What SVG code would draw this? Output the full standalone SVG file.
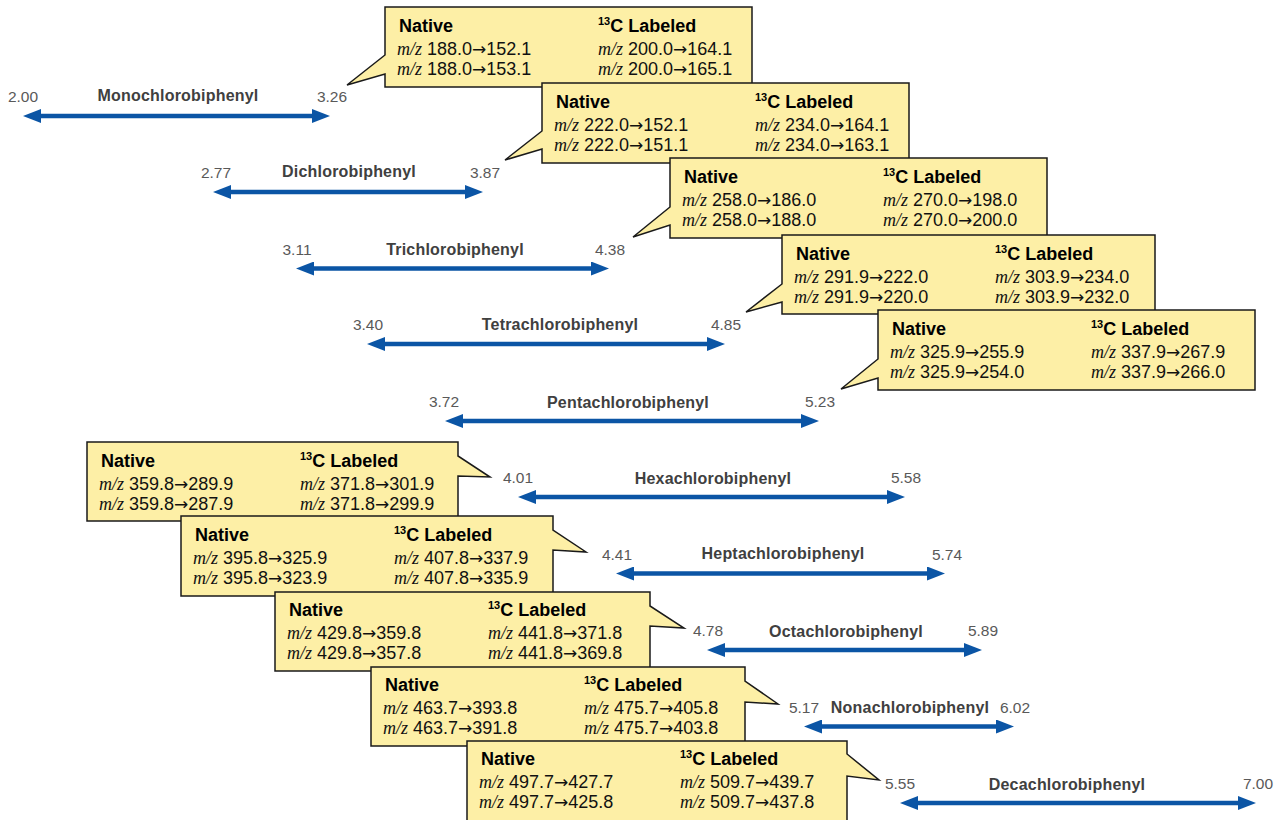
<svg xmlns="http://www.w3.org/2000/svg" width="1283" height="820" viewBox="0 0 1283 820">
<style>
.box{fill:#FDEFA6;stroke:#1a1a1a;stroke-width:1.5;stroke-linejoin:miter}
.hd{font-family:"Liberation Sans",Arial,sans-serif;font-weight:bold;font-size:18px;fill:#000}
.sup{font-size:11px}
.row{font-family:"Liberation Sans",Arial,sans-serif;font-size:18px;fill:#111}
.mz{font-family:"Liberation Serif","Times New Roman",serif;font-style:italic;font-size:18px}
.ar{font-family:"DejaVu Sans",sans-serif;font-size:17px}
.num{font-family:"Liberation Sans",Arial,sans-serif;font-size:15.5px;fill:#595959;text-anchor:middle}
.name{font-family:"Liberation Sans",Arial,sans-serif;font-weight:bold;font-size:16px;letter-spacing:0.2px;fill:#404040;text-anchor:middle}
.arr{stroke:#0B55A5;stroke-width:4.5;fill:none;marker-start:url(#ah);marker-end:url(#ah)}
</style>
<defs>
<marker id="ah" markerUnits="userSpaceOnUse" viewBox="0 0 18 14" markerWidth="18" markerHeight="14" refX="8" refY="7" orient="auto-start-reverse">
<path d="M0,0 L18,7 L0,14 Z" fill="#0B55A5"/>
</marker>
</defs>

<g id="connectors">
<line class="arr" x1="33" y1="116" x2="320" y2="116"/>
<line class="arr" x1="223" y1="192" x2="473" y2="192"/>
<line class="arr" x1="306" y1="268.5" x2="599" y2="268.5"/>
<line class="arr" x1="377" y1="344" x2="715" y2="344"/>
<line class="arr" x1="455" y1="421" x2="809" y2="421"/>
<line class="arr" x1="528" y1="497" x2="895" y2="497"/>
<line class="arr" x1="626" y1="573.5" x2="935" y2="573.5"/>
<line class="arr" x1="717" y1="650" x2="972" y2="650"/>
<line class="arr" x1="814" y1="726.5" x2="1004" y2="726.5"/>
<line class="arr" x1="910" y1="803" x2="1246" y2="803"/>
</g>

<g id="range-mono"><text class="num" x="23" y="102">2.00</text><text class="name" x="178" y="101">Monochlorobiphenyl</text><text class="num" x="332" y="102">3.26</text></g>
<g id="range-di"><text class="num" x="216" y="178">2.77</text><text class="name" x="349" y="177">Dichlorobiphenyl</text><text class="num" x="485" y="178">3.87</text></g>
<g id="range-tri"><text class="num" x="297" y="254.5">3.11</text><text class="name" x="455" y="255">Trichlorobiphenyl</text><text class="num" x="610" y="254.5">4.38</text></g>
<g id="range-tetra"><text class="num" x="368" y="330">3.40</text><text class="name" x="560" y="330">Tetrachlorobiphenyl</text><text class="num" x="726" y="330">4.85</text></g>
<g id="range-penta"><text class="num" x="444" y="407">3.72</text><text class="name" x="628" y="408">Pentachlorobiphenyl</text><text class="num" x="820" y="407">5.23</text></g>
<g id="range-hexa"><text class="num" x="518" y="483">4.01</text><text class="name" x="713" y="484">Hexachlorobiphenyl</text><text class="num" x="906" y="483">5.58</text></g>
<g id="range-hepta"><text class="num" x="617" y="559.5">4.41</text><text class="name" x="783" y="559">Heptachlorobiphenyl</text><text class="num" x="947" y="559.5">5.74</text></g>
<g id="range-octa"><text class="num" x="708" y="636">4.78</text><text class="name" x="846" y="637">Octachlorobiphenyl</text><text class="num" x="983" y="636">5.89</text></g>
<g id="range-nona"><text class="num" x="804" y="712.5">5.17</text><text class="name" x="910" y="713">Nonachlorobiphenyl</text><text class="num" x="1015" y="712.5">6.02</text></g>
<g id="range-deca"><text class="num" x="900" y="789">5.55</text><text class="name" x="1067" y="790">Decachlorobiphenyl</text><text class="num" x="1258" y="789">7.00</text></g>

<g id="box-mono">
<path class="box" d="M385,7 H752 V87 H385 V74 L347,85 L385,55 Z"/>
<text class="hd" x="399" y="32">Native</text>
<text class="hd" x="598" y="32"><tspan class="sup" dy="-7">13</tspan><tspan dy="7">C Labeled</tspan></text>
<text class="row" x="397" y="55"><tspan class="mz">m/z</tspan> 188.0<tspan class="ar">→</tspan>152.1</text>
<text class="row" x="397" y="75"><tspan class="mz">m/z</tspan> 188.0<tspan class="ar">→</tspan>153.1</text>
<text class="row" x="598" y="55"><tspan class="mz">m/z</tspan> 200.0<tspan class="ar">→</tspan>164.1</text>
<text class="row" x="598" y="75"><tspan class="mz">m/z</tspan> 200.0<tspan class="ar">→</tspan>165.1</text>
</g>
<g id="box-di">
<path class="box" d="M542,83 H909 V163 H542 V149 L505,160 L542,131 Z"/>
<text class="hd" x="556" y="108">Native</text>
<text class="hd" x="755" y="108"><tspan class="sup" dy="-7">13</tspan><tspan dy="7">C Labeled</tspan></text>
<text class="row" x="554" y="131"><tspan class="mz">m/z</tspan> 222.0<tspan class="ar">→</tspan>152.1</text>
<text class="row" x="554" y="151"><tspan class="mz">m/z</tspan> 222.0<tspan class="ar">→</tspan>151.1</text>
<text class="row" x="755" y="131"><tspan class="mz">m/z</tspan> 234.0<tspan class="ar">→</tspan>164.1</text>
<text class="row" x="755" y="151"><tspan class="mz">m/z</tspan> 234.0<tspan class="ar">→</tspan>163.1</text>
</g>
<g id="box-tri">
<path class="box" d="M670,158 H1047 V238 H670 V225 L633,237 L670,207 Z"/>
<text class="hd" x="684" y="183">Native</text>
<text class="hd" x="883" y="183"><tspan class="sup" dy="-7">13</tspan><tspan dy="7">C Labeled</tspan></text>
<text class="row" x="682" y="206"><tspan class="mz">m/z</tspan> 258.0<tspan class="ar">→</tspan>186.0</text>
<text class="row" x="682" y="226"><tspan class="mz">m/z</tspan> 258.0<tspan class="ar">→</tspan>188.0</text>
<text class="row" x="883" y="206"><tspan class="mz">m/z</tspan> 270.0<tspan class="ar">→</tspan>198.0</text>
<text class="row" x="883" y="226"><tspan class="mz">m/z</tspan> 270.0<tspan class="ar">→</tspan>200.0</text>
</g>
<g id="box-tetra">
<path class="box" d="M782,235 H1155 V314 H782 V302 L746,312 L782,284 Z"/>
<text class="hd" x="796" y="260">Native</text>
<text class="hd" x="995" y="260"><tspan class="sup" dy="-7">13</tspan><tspan dy="7">C Labeled</tspan></text>
<text class="row" x="794" y="283"><tspan class="mz">m/z</tspan> 291.9<tspan class="ar">→</tspan>222.0</text>
<text class="row" x="794" y="303"><tspan class="mz">m/z</tspan> 291.9<tspan class="ar">→</tspan>220.0</text>
<text class="row" x="995" y="283"><tspan class="mz">m/z</tspan> 303.9<tspan class="ar">→</tspan>234.0</text>
<text class="row" x="995" y="303"><tspan class="mz">m/z</tspan> 303.9<tspan class="ar">→</tspan>232.0</text>
</g>
<g id="box-penta">
<path class="box" d="M878,310 H1255 V390 H878 V378 L841,389 L878,359 Z"/>
<text class="hd" x="892" y="335">Native</text>
<text class="hd" x="1091" y="335"><tspan class="sup" dy="-7">13</tspan><tspan dy="7">C Labeled</tspan></text>
<text class="row" x="890" y="358"><tspan class="mz">m/z</tspan> 325.9<tspan class="ar">→</tspan>255.9</text>
<text class="row" x="890" y="378"><tspan class="mz">m/z</tspan> 325.9<tspan class="ar">→</tspan>254.0</text>
<text class="row" x="1091" y="358"><tspan class="mz">m/z</tspan> 337.9<tspan class="ar">→</tspan>267.9</text>
<text class="row" x="1091" y="378"><tspan class="mz">m/z</tspan> 337.9<tspan class="ar">→</tspan>266.0</text>
</g>

<g id="box-hexa">
<path class="box" d="M87,442 H458 V456 L490,477 L458,476 V521 H87 Z"/>
<text class="hd" x="101" y="467">Native</text>
<text class="hd" x="300" y="467"><tspan class="sup" dy="-7">13</tspan><tspan dy="7">C Labeled</tspan></text>
<text class="row" x="99" y="490"><tspan class="mz">m/z</tspan> 359.8<tspan class="ar">→</tspan>289.9</text>
<text class="row" x="99" y="510"><tspan class="mz">m/z</tspan> 359.8<tspan class="ar">→</tspan>287.9</text>
<text class="row" x="300" y="490"><tspan class="mz">m/z</tspan> 371.8<tspan class="ar">→</tspan>301.9</text>
<text class="row" x="300" y="510"><tspan class="mz">m/z</tspan> 371.8<tspan class="ar">→</tspan>299.9</text>
</g>
<g id="box-hepta">
<path class="box" d="M181,516 H553 V530 L586,552 L553,550 V596 H181 Z"/>
<text class="hd" x="195" y="541">Native</text>
<text class="hd" x="394" y="541"><tspan class="sup" dy="-7">13</tspan><tspan dy="7">C Labeled</tspan></text>
<text class="row" x="193" y="564"><tspan class="mz">m/z</tspan> 395.8<tspan class="ar">→</tspan>325.9</text>
<text class="row" x="193" y="584"><tspan class="mz">m/z</tspan> 395.8<tspan class="ar">→</tspan>323.9</text>
<text class="row" x="394" y="564"><tspan class="mz">m/z</tspan> 407.8<tspan class="ar">→</tspan>337.9</text>
<text class="row" x="394" y="584"><tspan class="mz">m/z</tspan> 407.8<tspan class="ar">→</tspan>335.9</text>
</g>
<g id="box-octa">
<path class="box" d="M275,592 H650 V606 L684,628 L650,626 V671 H275 Z"/>
<text class="hd" x="289" y="616">Native</text>
<text class="hd" x="488" y="616"><tspan class="sup" dy="-7">13</tspan><tspan dy="7">C Labeled</tspan></text>
<text class="row" x="287" y="639"><tspan class="mz">m/z</tspan> 429.8<tspan class="ar">→</tspan>359.8</text>
<text class="row" x="287" y="659"><tspan class="mz">m/z</tspan> 429.8<tspan class="ar">→</tspan>357.8</text>
<text class="row" x="488" y="639"><tspan class="mz">m/z</tspan> 441.8<tspan class="ar">→</tspan>371.8</text>
<text class="row" x="488" y="659"><tspan class="mz">m/z</tspan> 441.8<tspan class="ar">→</tspan>369.8</text>
</g>
<g id="box-nona">
<path class="box" d="M371,667 H745 V681 L778,704 L745,702 V746 H371 Z"/>
<text class="hd" x="385" y="691">Native</text>
<text class="hd" x="584" y="691"><tspan class="sup" dy="-7">13</tspan><tspan dy="7">C Labeled</tspan></text>
<text class="row" x="383" y="714"><tspan class="mz">m/z</tspan> 463.7<tspan class="ar">→</tspan>393.8</text>
<text class="row" x="383" y="734"><tspan class="mz">m/z</tspan> 463.7<tspan class="ar">→</tspan>391.8</text>
<text class="row" x="584" y="714"><tspan class="mz">m/z</tspan> 475.7<tspan class="ar">→</tspan>405.8</text>
<text class="row" x="584" y="734"><tspan class="mz">m/z</tspan> 475.7<tspan class="ar">→</tspan>403.8</text>
</g>
<g id="box-deca">
<path class="box" d="M467,741 H847 V754 L879,780 L847,776 V822 H467 Z"/>
<text class="hd" x="481" y="765">Native</text>
<text class="hd" x="680" y="765"><tspan class="sup" dy="-7">13</tspan><tspan dy="7">C Labeled</tspan></text>
<text class="row" x="479" y="788"><tspan class="mz">m/z</tspan> 497.7<tspan class="ar">→</tspan>427.7</text>
<text class="row" x="479" y="808"><tspan class="mz">m/z</tspan> 497.7<tspan class="ar">→</tspan>425.8</text>
<text class="row" x="680" y="788"><tspan class="mz">m/z</tspan> 509.7<tspan class="ar">→</tspan>439.7</text>
<text class="row" x="680" y="808"><tspan class="mz">m/z</tspan> 509.7<tspan class="ar">→</tspan>437.8</text>
</g>
</svg>
